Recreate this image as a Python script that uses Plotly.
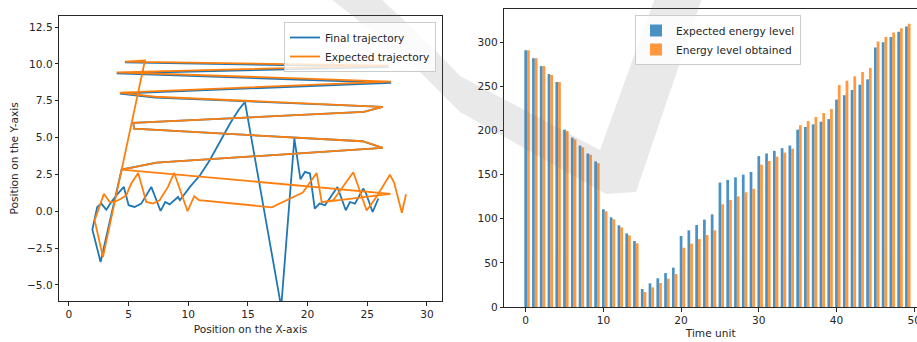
import plotly.graph_objects as go

# ---------------- Left panel data: trajectories ----------------
final_x = [25.93, 25.45, 24.9, 24.67, 23.97, 23.55, 23.2, 22.5, 21.46, 21.0, 20.6, 20.2, 19.78, 19.4,
           18.89, 17.79, 14.75, 14.2, 13.5, 12.65, 11.8, 10.98, 10.14, 9.3, 9.14, 8.44, 8.07, 7.68,
           6.9, 6.06, 5.5, 5.0, 4.6, 4.1, 3.55, 3.13, 2.71, 2.37, 1.96, 2.65, 4.41,
           7.35, 26.3, 24.6, 5.45, 5.4, 24.7, 26.3, 7.2, 4.27, 27.0, 4.0, 26.8, 4.69]
final_y = [0.86, -0.05, 1.2, 1.54, 0.52, 0.63, 0.07, 1.65, 0.41, 0.52, 0.18, 2.56, 2.67, 2.17,
           4.93, -6.5, 7.42, 6.86, 5.95, 4.7, 3.46, 2.44, 1.65, 0.75, 0.97, 0.47, 0.63, 0.02,
           1.65, 0.52, 0.29, 0.41, 1.65, 1.2, 0.63, 0.11, 0.52, 0.29, -1.24, -3.44, 2.83,
           3.3, 4.3, 4.75, 5.6, 6.0, 6.74, 7.08, 7.72, 7.98, 8.72, 9.36, 9.8, 10.1]

expected_x = [28.25, 27.9, 27.25, 26.9, 25.75, 24.95, 23.83, 22.15, 21.1, 26.95, 4.41,
              7.35, 26.3, 24.6, 5.45, 5.4, 24.7, 26.3, 7.2, 4.27, 27.0, 4.0, 26.8, 4.69, 6.37,
              2.85, 2.15, 2.93, 3.41, 3.83, 4.39, 4.8, 5.22, 5.8, 6.48, 7.04, 7.6, 8.3, 8.82,
              9.94, 10.5, 10.9, 17.0, 19.6, 20.76, 21.18]
expected_y = [1.15, -0.1, 1.95, 2.48, 0.95, 0.05, 2.65, 0.75, 0.6, 1.18, 2.83,
              3.3, 4.3, 4.75, 5.6, 6.0, 6.74, 7.08, 7.77, 8.05, 8.8, 9.43, 9.88, 10.16, 10.24,
              -3.1, -0.61, 1.18, 0.63, 0.63, 0.86, 1.08, 1.88, 2.6, 0.63, 0.52, 0.75, 1.65, 2.6,
              0.0, 1.02, 0.75, 0.27, 1.27, 2.6, 0.63]

# ---------------- Right panel data: energy levels ----------------
time_unit = list(range(50))
expected_energy = [291, 282, 273, 264, 255, 201, 192, 183, 174, 165,
                   110.7, 101.6, 92.6, 83.5, 74.8, 20.4, 26.8, 32.5, 38.5, 44.6,
                   80.5, 86.9, 92.9, 99, 105, 141, 144, 147, 150, 153,
                   171, 174, 177, 180, 183, 201, 204, 207, 210, 213,
                   235, 240, 246, 252, 258, 294, 300, 306, 312, 318]
obtained_energy = [291, 282, 273, 263, 255, 199.5, 190, 181, 172.6, 163,
                   108.4, 99.4, 90.3, 81.2, 72.2, 17, 22.3, 27.2, 32.1, 37.4,
                   67.2, 71.8, 77, 81.6, 86.9, 116.4, 121.3, 125.4, 130, 134,
                   161.3, 165.5, 170.4, 175, 179.5, 206, 210.8, 215.3, 219.9, 224.4,
                   251.6, 256.5, 261.4, 266.3, 271, 301, 306, 311, 316, 321]

left_xticks = [0, 5, 10, 15, 20, 25, 30]
left_yticks = [-5.0, -2.5, 0.0, 2.5, 5.0, 7.5, 10.0, 12.5]
right_xticks = [0, 10, 20, 30, 40, 50]
right_yticks = [0, 50, 100, 150, 200, 250, 300]

# ---------------- layout helpers (pixel -> paper) ----------------
W, H = 917, 342
ML, MR, MT, MB = 59, 0, 9, 35
PW, PH = W - ML - MR, H - MT - MB


def px_x(p):
    return (p - ML) / PW


def px_y(p):
    return (H - MB - p) / PH


BLUE = "#1f77b4"
ORANGE = "#ff7f0e"
FONT = "DejaVu Sans"
FS = 10.6
AXC = "#262626"

fig = go.Figure()

fig.add_trace(go.Scatter(x=final_x, y=final_y, mode="lines", name="Final trajectory",
                         line=dict(color=BLUE, width=1.8), xaxis="x", yaxis="y",
                         legend="legend"))
fig.add_trace(go.Scatter(x=expected_x, y=expected_y, mode="lines", name="Expected trajectory",
                         line=dict(color=ORANGE, width=1.8), xaxis="x", yaxis="y",
                         legend="legend"))

BW = 0.35
fig.add_trace(go.Bar(x=time_unit, y=expected_energy, name="Expected energy level",
                     width=BW, offset=-BW / 2, marker=dict(color=BLUE, line=dict(width=0)),
                     opacity=0.8, xaxis="x2", yaxis="y2", legend="legend2"))
fig.add_trace(go.Bar(x=time_unit, y=obtained_energy, name="Energy level obtained",
                     width=BW, offset=BW / 2, marker=dict(color=ORANGE, line=dict(width=0)),
                     opacity=0.8, xaxis="x2", yaxis="y2", legend="legend2"))

axis_common = dict(showgrid=False, zeroline=False, showline=True, linecolor=AXC, linewidth=1,
                   ticks="outside", ticklen=3.5, tickwidth=1, tickcolor=AXC,
                   tickfont=dict(family=FONT, size=FS, color="#262626"), automargin=False)

# faint watermark swoosh in the background of the original image
pts = [(330, -2), (380, -2), (420, 35), (460, 76), (600, 150), (655, -2), (702, -2),
       (636, 192), (606, 194), (460, 112), (410, 62)]
path = "M " + " L ".join(f"{px_x(x):.4f},{px_y(y):.4f}" for x, y in pts) + " Z"
shapes = [dict(type="path", xref="paper", yref="paper", path=path,
               fillcolor="rgba(120,120,120,0.16)", line=dict(width=0), layer="above")]

fig.update_layout(
    width=W, height=H,
    margin=dict(l=ML, r=MR, t=MT, b=MB),
    paper_bgcolor="white", plot_bgcolor="white",
    font=dict(family=FONT, size=FS, color="#262626"),
    barmode="overlay",
    shapes=shapes,
    xaxis=dict(domain=[px_x(59.3), px_x(441.7)], range=[-0.81, 31.24], tickvals=left_xticks,
               mirror=True, anchor="y",
               title=dict(text="Position on the X-axis", standoff=6,
                          font=dict(family=FONT, size=FS)), **axis_common),
    yaxis=dict(domain=[px_y(301), px_y(15.7)], range=[-6.09, 13.27], tickvals=left_yticks,
               tickformat=".1f", mirror=True, anchor="x",
               title=dict(text="Position on the Y-axis", standoff=6,
                          font=dict(family=FONT, size=FS)), **axis_common),
    xaxis2=dict(domain=[px_x(504.3), 1.0], range=[-2.75, 50.36], tickvals=right_xticks,
                mirror=True, anchor="y2", ticklabeloverflow="allow",
                title=dict(text="Time unit", standoff=4, font=dict(family=FONT, size=FS)),
                **axis_common),
    yaxis2=dict(domain=[px_y(307), px_y(9.3)], range=[0, 337.4], tickvals=right_yticks,
                mirror=False, anchor="x2", **axis_common),
    legend=dict(x=px_x(436), y=px_y(22), xanchor="right", yanchor="top",
                bgcolor="rgba(255,255,255,0.8)", bordercolor="#cccccc", borderwidth=1,
                font=dict(family=FONT, size=FS), tracegroupgap=0, itemwidth=30),
    legend2=dict(x=px_x(718), y=px_y(15), xanchor="center", yanchor="top",
                 bgcolor="rgba(255,255,255,0.8)", bordercolor="#cccccc", borderwidth=1,
                 font=dict(family=FONT, size=FS), tracegroupgap=0, itemwidth=30),
    showlegend=True,
)

fig.write_html("out.html", config={"displayModeBar": False},
               post_script="document.body.style.margin='0';document.body.style.overflow='hidden';")
